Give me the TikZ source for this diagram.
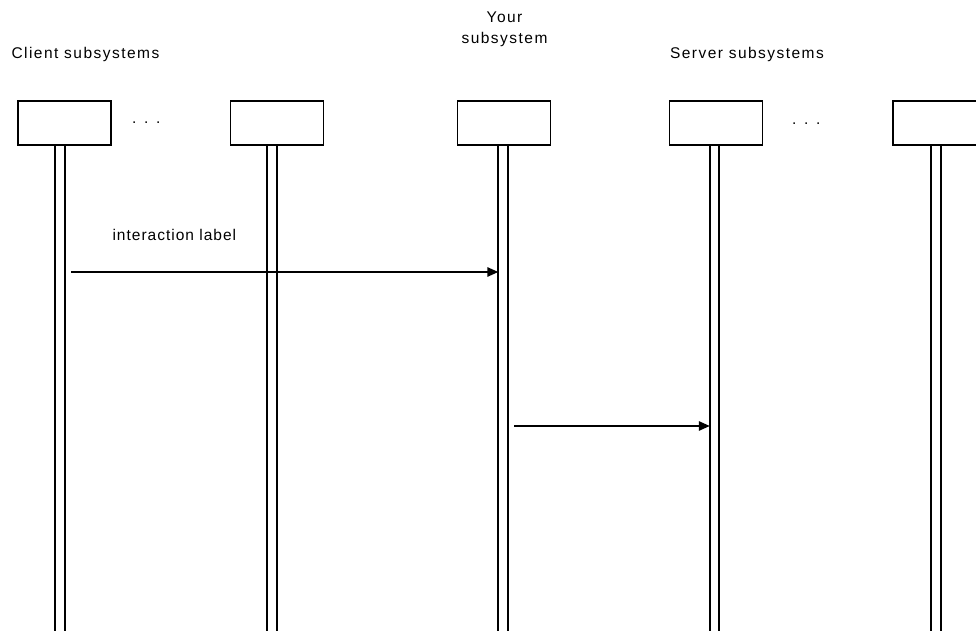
\documentclass[tikz,border=0pt]{standalone}
\usepackage{fontspec}
\setmainfont{Liberation Sans}[LetterSpace=9.5]
\usetikzlibrary{arrows.meta}
\begin{document}
\begin{tikzpicture}[x=1pt,y=-1pt,
  every node/.style={inner sep=0pt, outer sep=0pt},
  lbl/.style={font=\fontsize{15.5}{20.5}\selectfont, anchor=base west},
  subsys/.style={draw, line width=1.7pt, minimum width=93pt, minimum height=44pt},
  lifeline/.style={draw, line width=1.7pt, minimum width=9.5pt, minimum height=520pt, anchor=north},
  msg/.style={line width=1.5pt, -{Triangle[length=11pt,width=9.5pt]}}]
  \useasboundingbox (0,0) rectangle (976,631);
  \clip (0,0) rectangle (976,631);

  % group captions
  \node[lbl] (clientlbl) at (11.5,58.5) {Client subsystems};
  \node[lbl, align=center, anchor=north] (yourlbl) at (504.5,12) {Your\\subsystem};
  \node[lbl] (serverlbl) at (670,58.5) {Server subsystems};

  % subsystem heads
  \node[subsys] (c1) at (64.5,123) {};
  \node[subsys] (c2) at (277,123) {};
  \node[subsys] (you) at (504,123) {};
  \node[subsys] (s1) at (716,123) {};
  \node[subsys] (s2) at (939.5,123) {};

  % ellipses between heads
  \node[lbl] (dotsc) at (132,123.5) {. . .};
  \node[lbl] (dotss) at (792,124.5) {. . .};

  % lifelines
  \node[lifeline] (lc1) at (60,145) {};
  \node[lifeline] (lc2) at (272,145) {};
  \node[lifeline] (lyou) at (503,145) {};
  \node[lifeline] (ls1) at (714.5,145) {};
  \node[lifeline] (ls2) at (936,145) {};

  % messages
  \coordinate (m1) at (0,272);
  \coordinate (m2) at (0,426);
  \draw[msg, shorten <=6.5pt] (lc1.east |- m1) -- (lyou.west |- m1);
  \node[lbl, font=\fontsize{15.5}{20.5}\selectfont\addfontfeatures{LetterSpace=6.5}] (msglbl) at (112.5,240.5) {interaction label};
  \draw[msg, shorten <=6.5pt] (lyou.east |- m2) -- (ls1.west |- m2);
\end{tikzpicture}
\end{document}
